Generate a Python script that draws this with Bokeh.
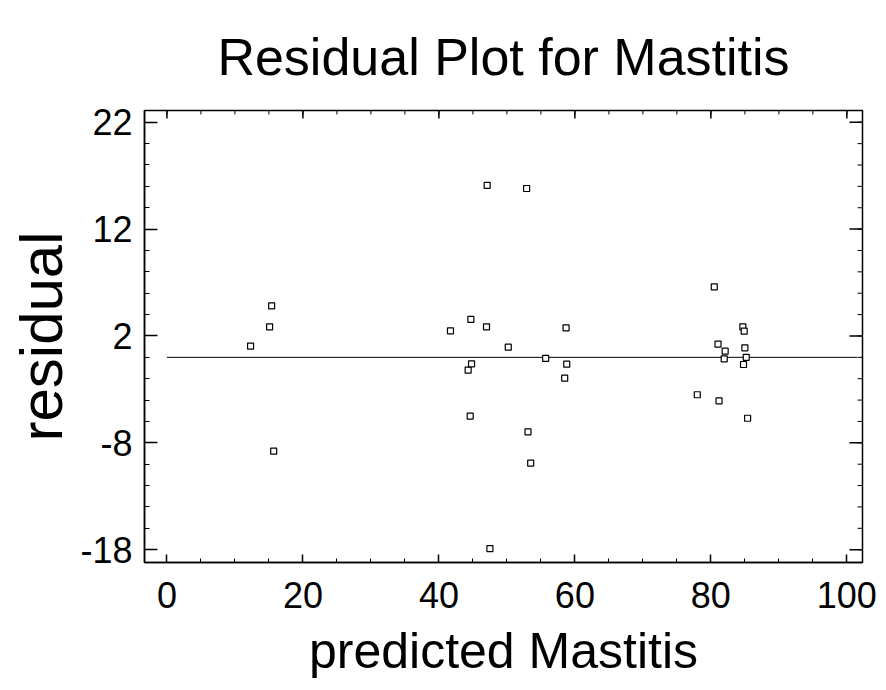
import math
from bokeh.plotting import figure
from bokeh.models import Range1d, FixedTicker, LinearAxis
from bokeh.embed import file_html
from bokeh.resources import INLINE

# predicted values and residuals
predicted = [12.3, 15.1, 15.4, 15.7,
             41.7, 44.3, 44.6, 44.7, 44.8, 47.0, 47.1, 47.5, 50.2, 52.9, 53.1, 53.5,
             55.7, 58.5, 58.7, 58.8,
             78.0, 80.5, 81.05, 81.2, 81.96, 82.1, 84.7, 84.8, 84.9, 85.0, 85.2, 85.4]
residual = [1.05, 2.86, 4.82, -8.78,
            2.48, -1.2, -5.5, 3.55, -0.61, 2.86, 16.1, -17.9, 0.95, 15.8, -6.97, -9.9,
            -0.1, -1.95, 2.76, -0.64,
            -3.5, 6.6, 1.24, -4.07, -0.14, 0.58, 2.86, -0.67, 2.45, 0.89, 0.0, -5.7]

zero_x = [0, 101.5]
zero_y = [0, 0]

x_ticks = [0, 20, 40, 60, 80, 100]
x_minor = list(range(0, 101, 5))
y_ticks = [-18, -8, 2, 12, 22]
y_tick_labels = ["-18", "-8", "2", "12", "22"]
y_minor = list(range(-18, 23, 2))

X_MIN, X_MAX = -3.3, 102.3
Y_MIN, Y_MAX = -19.2, 23.1

FONT = "Liberation Sans"

p = figure(width=886, height=690, output_backend="svg", toolbar_location=None,
           x_range=Range1d(X_MIN, X_MAX), y_range=Range1d(Y_MIN, Y_MAX),
           min_border_left=144, min_border_right=24, min_border_top=110,
           min_border_bottom=128, x_axis_type=None, y_axis_type=None)

p.title.text = "Residual Plot for Mastitis"
p.title.align = "center"
p.title.text_font = FONT
p.title.text_font_style = "normal"
p.title.text_font_size = "52px"
p.title.text_color = "black"
p.title.standoff = 50

p.grid.visible = False
p.outline_line_color = "black"
p.outline_line_width = 1.5
p.background_fill_color = "white"
p.border_fill_color = "white"


def style(ax, major_in, minor_in):
    ax.major_tick_in = major_in
    ax.major_tick_out = 0
    ax.minor_tick_in = minor_in
    ax.minor_tick_out = 0
    ax.axis_line_color = "black"
    ax.axis_line_width = 1.5
    ax.major_tick_line_color = "black"
    ax.minor_tick_line_color = "black"
    ax.major_tick_line_width = 1.5
    ax.minor_tick_line_width = 1
    ax.major_label_text_font = FONT
    ax.major_label_text_color = "black"
    ax.major_label_text_font_size = "36px"


xb = LinearAxis(ticker=FixedTicker(ticks=x_ticks, minor_ticks=x_minor))
style(xb, 8, 4)
xb.major_label_standoff = 19
xb.axis_label = "predicted Mastitis"
xb.axis_label_text_font = FONT
xb.axis_label_text_font_style = "normal"
xb.axis_label_text_font_size = "50px"
xb.axis_label_text_color = "black"
xb.axis_label_standoff = 12
p.add_layout(xb, "below")

yl = LinearAxis(ticker=FixedTicker(ticks=y_ticks, minor_ticks=y_minor))
style(yl, 13, 5)
yl.major_label_standoff = 12
yl.major_label_orientation = "horizontal"
yl.major_label_overrides = {t: s for t, s in zip(y_ticks, y_tick_labels)}
yl.axis_label = "residual"
yl.axis_label_text_font = FONT
yl.axis_label_text_font_style = "normal"
yl.axis_label_text_font_size = "60px"
yl.axis_label_text_color = "black"
yl.axis_label_standoff = 2
p.add_layout(yl, "left")

# mirrored inward ticks on the top and right edges of the frame
p.ray(x=x_ticks, y=[Y_MAX] * len(x_ticks), length=8, length_units="screen",
      angle=-math.pi / 2, line_color="black", line_width=1.5)
p.ray(x=x_minor, y=[Y_MAX] * len(x_minor), length=4, length_units="screen",
      angle=-math.pi / 2, line_color="black", line_width=1)
p.ray(x=[X_MAX] * len(y_ticks), y=y_ticks, length=13, length_units="screen",
      angle=math.pi, line_color="black", line_width=1.5)
p.ray(x=[X_MAX] * len(y_minor), y=y_minor, length=5, length_units="screen",
      angle=math.pi, line_color="black", line_width=1)

p.line(zero_x, zero_y, line_color="black", line_width=1)
p.scatter(predicted, residual, marker="square", size=6, fill_color="white",
          line_color="black", line_width=1.2)

open("out.html", "w").write(file_html(p, INLINE))
